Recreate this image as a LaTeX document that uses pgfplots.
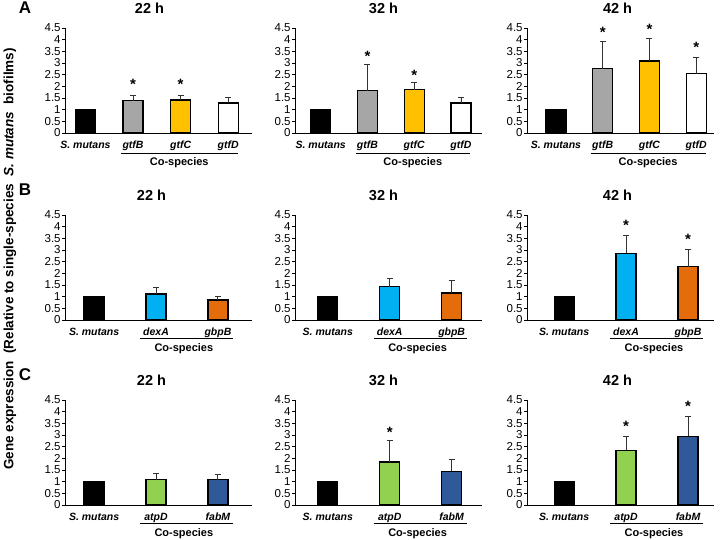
\documentclass[border=0pt]{standalone}
\usepackage{fontspec}
\setmainfont{Liberation Sans}
\usepackage{pgfplots}
\pgfplotsset{compat=1.18}
\definecolor{cgray}{HTML}{A6A6A6}
\definecolor{cgold}{HTML}{FFC000}
\definecolor{cblue}{HTML}{00B0F0}
\definecolor{corange}{HTML}{E46C0A}
\definecolor{cgreen}{HTML}{92D050}
\definecolor{cnavy}{HTML}{30599A}
\pgfplotsset{
  panel/.style={
    scale only axis, width=187pt, height=105pt,
    ymin=0, ymax=4.5, ytick={0,0.5,...,4.5},
    axis x line=bottom, axis y line=left,
    axis line style={-, line width=0.8pt, black},
    tick align=outside, major tick length=3pt,
    ytick style={draw=black, line width=0.6pt},
    xtick style={draw=none},
    /pgf/number format/assume math mode=true,
    yticklabel style={font=\fontsize{11.5}{11.5}\selectfont, inner sep=1.2pt},
    xticklabel style={font=\bfseries\itshape\fontsize{10.5}{11}\selectfont, yshift=-1.5pt},
    title style={at={(0.5,1)}, anchor=center, yshift=14pt, font=\bfseries\fontsize{14.5}{15}\selectfont},
    clip=false,
  },
  fourcat/.style={xtick={0,1,2,3}, xticklabels={S. mutans, gtfB, gtfC, gtfD}},
  atwocat/.style={xtick={0,1,2}, xticklabels={S. mutans, dexA, gbpB}},
  ctwocat/.style={xtick={0,1,2}, xticklabels={S. mutans, atpD, fabM}},
  mybar/.style={ybar, bar width=20pt, bar shift=0pt, draw=black, line width=1.3pt,
    error bars/y dir=plus, error bars/y explicit,
    error bars/error bar style={line width=0.9pt, black!80},
    error bars/error mark options={rotate=90, mark size=3pt, line width=0.9pt, black!80}},
  stars/.style={draw=none, mark=none, nodes near coords={\bfseries *},
    every node near coord/.append style={anchor=center, inner sep=0pt, yshift=-3pt, font=\fontsize{15}{15}\selectfont}},
}
\newcommand{\cospA}{%
  \draw[line width=0.8pt] ([yshift=-20pt]axis cs:0.75,0) -- ([yshift=-20pt]axis cs:3.2,0);
  \node[font=\bfseries\fontsize{11}{11}\selectfont] at ([yshift=-29.5pt]axis cs:1.97,0) {Co-species};}
\newcommand{\cospB}{%
  \draw[line width=0.8pt] ([yshift=-18.5pt]axis cs:0.74,0) -- ([yshift=-18.5pt]axis cs:2.24,0);
  \node[font=\bfseries\fontsize{11}{11}\selectfont] at ([yshift=-28.5pt]axis cs:1.45,0) {Co-species};}
\begin{document}
\begin{tikzpicture}[x=1pt,y=1pt]
\path[use as bounding box] (0,0) rectangle (720,540);
% ---------------- Row A ----------------
\begin{axis}[panel, fourcat, at={(65pt,407pt)}, anchor=south west, xmin=-0.43, xmax=3.5, title={22 h}, title style={xshift=-9pt}]
\addplot[mybar, fill=black] coordinates {(0,1)};
\addplot[mybar, fill=cgray] coordinates {(1,1.38) +- (0,0.21)};
\addplot[mybar, fill=cgold] coordinates {(2,1.42) +- (0,0.17)};
\addplot[mybar, fill=white] coordinates {(3,1.29) +- (0,0.23)};
\addplot[stars] coordinates {(1,2.2) (2,2.2)};
\cospA
\end{axis}
\begin{axis}[panel, fourcat, at={(295pt,407pt)}, anchor=south west, xmin=-0.55, xmax=3.45, title={32 h}, title style={xshift=-5pt}]
\addplot[mybar, fill=black] coordinates {(0,1)};
\addplot[mybar, fill=cgray] coordinates {(1,1.82) +- (0,1.13)};
\addplot[mybar, fill=cgold] coordinates {(2,1.85) +- (0,0.32)};
\addplot[mybar, fill=white] coordinates {(3,1.29) +- (0,0.22)};
\addplot[stars] coordinates {(1,3.4) (2,2.6)};
\cospA
\end{axis}
\begin{axis}[panel, fourcat, at={(527pt,407pt)}, anchor=south west, xmin=-0.62, xmax=3.38, title={42 h}, title style={xshift=-3pt}]
\addplot[mybar, fill=black] coordinates {(0,1)};
\addplot[mybar, fill=cgray] coordinates {(1,2.76) +- (0,1.16)};
\addplot[mybar, fill=cgold] coordinates {(2,3.09) +- (0,0.98)};
\addplot[mybar, fill=white] coordinates {(3,2.54) +- (0,0.71)};
\addplot[stars] coordinates {(1,4.45) (2,4.57) (3,3.78)};
\cospA
\end{axis}
% ---------------- Row B ----------------
\begin{axis}[panel, atwocat, at={(65pt,220pt)}, anchor=south west, xmin=-0.47, xmax=2.55, title={22 h}, title style={xshift=-7pt}]
\addplot[mybar, fill=black] coordinates {(0,1)};
\addplot[mybar, fill=cblue] coordinates {(1,1.11) +- (0,0.28)};
\addplot[mybar, fill=corange] coordinates {(2,0.86) +- (0,0.14)};
\cospB
\end{axis}
\begin{axis}[panel, atwocat, at={(295pt,220pt)}, anchor=south west, xmin=-0.53, xmax=2.49, title={32 h}, title style={xshift=-5pt}]
\addplot[mybar, fill=black] coordinates {(0,1)};
\addplot[mybar, fill=cblue] coordinates {(1,1.43) +- (0,0.36)};
\addplot[mybar, fill=corange] coordinates {(2,1.16) +- (0,0.53)};
\cospB
\end{axis}
\begin{axis}[panel, atwocat, at={(527pt,220pt)}, anchor=south west, xmin=-0.6, xmax=2.42, title={42 h}, title style={xshift=-3pt}]
\addplot[mybar, fill=black] coordinates {(0,1)};
\addplot[mybar, fill=cblue] coordinates {(1,2.86) +- (0,0.75)};
\addplot[mybar, fill=corange] coordinates {(2,2.29) +- (0,0.74)};
\addplot[stars] coordinates {(1,4.17) (2,3.6)};
\cospB
\end{axis}
% ---------------- Row C ----------------
\begin{axis}[panel, ctwocat, at={(65pt,35pt)}, anchor=south west, xmin=-0.47, xmax=2.55, title={22 h}, title style={xshift=-7pt}]
\addplot[mybar, fill=black] coordinates {(0,1)};
\addplot[mybar, fill=cgreen] coordinates {(1,1.08) +- (0,0.28)};
\addplot[mybar, fill=cnavy] coordinates {(2,1.08) +- (0,0.24)};
\cospB
\end{axis}
\begin{axis}[panel, ctwocat, at={(295pt,35pt)}, anchor=south west, xmin=-0.53, xmax=2.49, title={32 h}, title style={xshift=-5pt}]
\addplot[mybar, fill=black] coordinates {(0,1)};
\addplot[mybar, fill=cgreen] coordinates {(1,1.84) +- (0,0.92)};
\addplot[mybar, fill=cnavy] coordinates {(2,1.44) +- (0,0.53)};
\addplot[stars] coordinates {(1,3.23)};
\cospB
\end{axis}
\begin{axis}[panel, ctwocat, at={(527pt,35pt)}, anchor=south west, xmin=-0.6, xmax=2.42, title={42 h}, title style={xshift=-3pt}]
\addplot[mybar, fill=black] coordinates {(0,1)};
\addplot[mybar, fill=cgreen] coordinates {(1,2.34) +- (0,0.61)};
\addplot[mybar, fill=cnavy] coordinates {(2,2.95) +- (0,0.83)};
\addplot[stars] coordinates {(1,3.52) (2,4.34)};
\cospB
\end{axis}
% ---------------- Labels ----------------
\node[font=\bfseries\fontsize{17}{17}\selectfont] at (25,532) {A};
\node[font=\bfseries\fontsize{17}{17}\selectfont] at (25,350) {B};
\node[font=\bfseries\fontsize{17}{17}\selectfont] at (25,165) {C};
\node[rotate=90, font=\bfseries\fontsize{13.5}{13.5}\selectfont] at (10,281) {Gene expression\ \ (Relative to single-species\ \ \textit{S. mutans}\ \ biofilms)};
\end{tikzpicture}
\end{document}
